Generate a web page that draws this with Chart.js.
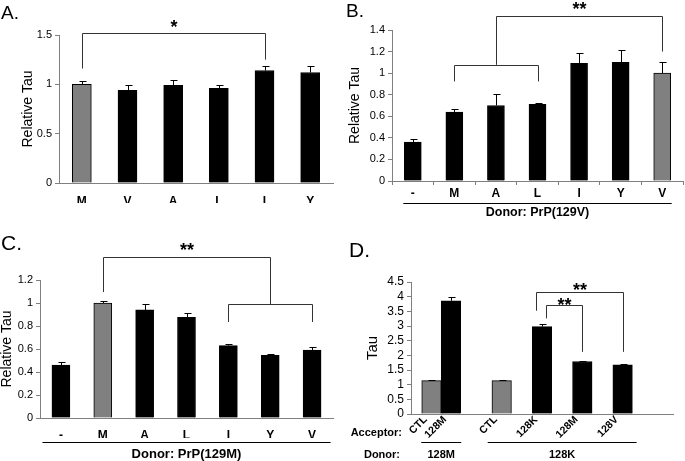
<!DOCTYPE html>
<html>
<head>
<meta charset="utf-8">
<script src="https://cdn.jsdelivr.net/npm/chart.js@4.4.1/dist/chart.umd.min.js"></script>
<style>
  body { margin: 0; background: #fff; }
  #wrap { position: relative; width: 685px; height: 461px; }
  #wrap canvas { position: absolute; left: 0; top: 0; }
</style>
</head>
<body>
<div id="wrap">
  <canvas id="chartA" width="685" height="461"></canvas>
  <canvas id="chartB" width="685" height="461"></canvas>
  <canvas id="chartC" width="685" height="461"></canvas>
  <canvas id="chartD" width="685" height="461"></canvas>
</div>
<script>
// ---- data ----
// A. relative tau, acceptor variants (M is the control)
const aCategories = ['M', 'V', 'A', 'L', 'I', 'Y'];
const aValues = [1.00, 0.94, 0.99, 0.96, 1.14, 1.12];
const aErrors = [0.03, 0.05, 0.05, 0.03, 0.05, 0.07];
const aControl = 'M';

// B. donor PrP(129V)
const bCategories = ['-', 'M', 'A', 'L', 'I', 'Y', 'V'];
const bValues = [0.36, 0.64, 0.70, 0.71, 1.09, 1.10, 1.00];
const bErrors = [0.03, 0.03, 0.11, 0.01, 0.10, 0.11, 0.10];
const bControl = 'V';

// C. donor PrP(129M)
const cCategories = ['-', 'M', 'A', 'L', 'I', 'Y', 'V'];
const cValues = [0.46, 1.00, 0.94, 0.875, 0.63, 0.545, 0.59];
const cErrors = [0.03, 0.02, 0.05, 0.035, 0.015, 0.015, 0.025];
const cControl = 'M';

// D. absolute tau; '' slots are spacers between bars
const dAcceptors = ['', '128M', '', '', 'CTL', '', '128K', '', '128M', '', '128V', '', ''];
const dCtlValues = [null, 1.14, null, null, 1.14, null, null, null, null, null, null, null, null];
const dCtlErrors = [null, 0.03, null, null, 0.03, null, null, null, null, null, null, null, null];
const dValues = [null, 3.86, null, null, null, null, 2.98, null, 1.79, null, 1.68, null, null];
const dErrors = [null, 0.12, null, null, null, null, 0.08, null, 0.03, null, 0.02, null, null];

const FONT = "'Liberation Sans', Arial, sans-serif";
const GRAY = '#808080';
const AXIS = '#7f7f7f';

Chart.defaults.font.family = FONT;

const fmt = v => String(Math.round(v * 100) / 100);

// error bars, significance brackets, group lines and panel letters
const overlay = {
  id: 'overlay',
  afterDatasetsDraw(chart, args, opts) {
    const { ctx, chartArea } = chart;
    const x = chart.scales.x, y = chart.scales.y;
    ctx.save();
    ctx.lineWidth = 1;

    chart.data.datasets.forEach((ds, di) => {
      if (!ds.errors) return;
      chart.getDatasetMeta(di).data.forEach((bar, i) => {
        const v = ds.data[i], e = ds.errors[i];
        if (v == null || !e) return;
        const top = Math.round(y.getPixelForValue(v + e)) + 0.5;
        const bx = Math.round(bar.x) + 0.5;
        ctx.strokeStyle = '#000';
        ctx.beginPath();
        ctx.moveTo(bx, bar.y);
        ctx.lineTo(bx, top);
        ctx.moveTo(bx - 3, top);
        ctx.lineTo(bx + 4, top);
        ctx.stroke();
      });
    });

    (opts.brackets || []).forEach(b => {
      const x1 = Math.round(x.getPixelForValue(b.from) + (b.dxFrom || 0)) + 0.5;
      const x2 = Math.round(x.getPixelForValue(b.to) + (b.dxTo || 0)) + 0.5;
      const yt = Math.round(y.getPixelForValue(b.top)) + 0.5;
      ctx.strokeStyle = '#333';
      ctx.beginPath();
      ctx.moveTo(x1, y.getPixelForValue(b.footFrom));
      ctx.lineTo(x1, yt);
      ctx.lineTo(x2, yt);
      ctx.lineTo(x2, y.getPixelForValue(b.footTo));
      ctx.stroke();
      if (b.stars) {
        const size = 18;
        ctx.fillStyle = '#000';
        ctx.font = 'bold ' + size + 'px ' + FONT;
        ctx.textAlign = 'center';
        ctx.textBaseline = 'alphabetic';
        ctx.fillText(b.stars, (x1 + x2) / 2, y.getPixelForValue(b.starsAt) + 0.57 * size);
      }
    });

    (opts.groups || []).forEach(g => {
      const x1 = x.getPixelForValue(g.from) - g.pad;
      const x2 = x.getPixelForValue(g.to) + g.pad;
      const yl = Math.round(chartArea.bottom + g.drop) + 0.5;
      ctx.strokeStyle = '#000';
      ctx.beginPath();
      ctx.moveTo(x1, yl);
      ctx.lineTo(x2, yl);
      ctx.stroke();
      ctx.fillStyle = '#000';
      ctx.font = 'bold ' + g.size + 'px ' + FONT;
      ctx.textAlign = 'center';
      ctx.textBaseline = 'middle';
      ctx.fillText(g.label, (x1 + x2) / 2, yl + g.gap);
    });

    if (opts.acceptors) {
      ctx.fillStyle = '#000';
      ctx.font = 'bold 10.5px ' + FONT;
      ctx.textAlign = 'right';
      ctx.textBaseline = 'middle';
      chart.data.datasets.forEach((ds, di) => {
        chart.getDatasetMeta(di).data.forEach((bar, i) => {
          if (ds.data[i] == null) return;
          const text = di === 0 ? 'CTL' : opts.acceptors[i];
          ctx.save();
          ctx.translate(bar.x - 6, chartArea.bottom + 4);
          ctx.rotate(-Math.PI / 4);
          ctx.fillText(text, 0, 0);
          ctx.restore();
        });
      });
    }

    (opts.captions || []).forEach(c => {
      ctx.fillStyle = '#000';
      ctx.font = 'bold 11px ' + FONT;
      ctx.textAlign = 'right';
      ctx.textBaseline = 'middle';
      ctx.fillText(c.text, chartArea.left + c.dx, chartArea.bottom + c.dy);
    });

    if (opts.letter) {
      ctx.fillStyle = '#000';
      ctx.font = opts.letter.size + 'px ' + FONT;
      ctx.textAlign = 'left';
      ctx.textBaseline = 'alphabetic';
      ctx.fillText(opts.letter.text, opts.letter.x, opts.letter.y);
    }
    ctx.restore();
  }
};

function yAxis(max, step, width, title, titleSize, titlePad, tickSize) {
  return {
    min: 0,
    max: max,
    afterFit: s => { s.width = width; },
    border: { color: AXIS, width: 1 },
    grid: { drawOnChartArea: false, drawTicks: true, tickLength: 4, color: AXIS },
    ticks: {
      stepSize: step,
      autoSkip: false,
      padding: 3,
      color: '#000',
      font: { size: tickSize, lineHeight: 1 },
      callback: fmt
    },
    title: {
      display: true,
      text: title,
      color: '#000',
      font: { size: titleSize, lineHeight: 1 },
      padding: { top: titlePad, bottom: 0 }
    }
  };
}

function xAxis(showTickMarks, showLabels, labelPad) {
  return {
    afterFit: s => { s.height = 20; },
    border: { color: AXIS, width: 1 },
    grid: showTickMarks
      ? { display: true, drawOnChartArea: false, drawTicks: true, tickLength: 4, color: AXIS, offset: true }
      : { display: false },
    ticks: {
      display: showLabels,
      padding: labelPad,
      color: '#000',
      maxRotation: 0,
      autoSkip: false,
      font: { size: 12, weight: 'bold', lineHeight: 1.2 }
    }
  };
}

function barColors(categories, control) {
  return categories.map(c => (c === control ? GRAY : '#000'));
}

function simplePanel(id, categories, values, errors, control, thickness, layout, scales, overlayOpts) {
  return new Chart(document.getElementById(id), {
    type: 'bar',
    data: {
      labels: categories,
      datasets: [{
        data: values,
        errors: errors,
        backgroundColor: barColors(categories, control),
        borderColor: '#000',
        borderWidth: 1,
        barThickness: thickness
      }]
    },
    options: {
      responsive: false,
      devicePixelRatio: 1,
      animation: false,
      layout: { padding: layout },
      plugins: { legend: { display: false }, tooltip: { enabled: false }, overlay: overlayOpts },
      scales: scales
    },
    plugins: [overlay]
  });
}

// A
simplePanel('chartA', aCategories, aValues, aErrors, aControl, 19,
  { left: 0, top: 35, right: 352, bottom: 258 },
  { x: xAxis(false, true, 3), y: yAxis(1.5, 0.5, 59, 'Relative Tau', 14, 21, 11) },
  {
    letter: { text: 'A.', x: 1, y: 18.5, size: 19 },
    brackets: [{ from: 0, to: 4, top: 1.516, footFrom: 1.16, footTo: 1.25, stars: '*', starsAt: 1.62 }]
  });

// B
simplePanel('chartB', bCategories, bValues, bErrors, bControl, 17,
  { left: 340, top: 30, right: 2, bottom: 260 },
  { x: xAxis(true, true, 1.5), y: yAxis(1.4, 0.2, 52, 'Relative Tau', 14, 8, 11) },
  {
    letter: { text: 'B.', x: 346, y: 17, size: 19 },
    brackets: [
      { from: 1, to: 3, top: 1.077, footFrom: 0.923, footTo: 0.923 },
      { from: 2, to: 6, top: 1.526, footFrom: 1.077, footTo: 1.20, stars: '**', starsAt: 1.635 }
    ],
    groups: [{ from: 0, to: 6, pad: 9.5, drop: 22, gap: 9, size: 12.5, label: 'Donor: PrP(129V)' }]
  });

// C
simplePanel('chartC', cCategories, cValues, cErrors, cControl, 18,
  { left: 0, top: 280, right: 352, bottom: 23 },
  { x: xAxis(false, true, 2.8), y: yAxis(1.2, 0.2, 40, 'Relative Tau', 14, 0, 11) },
  {
    letter: { text: 'C.', x: 1, y: 250, size: 21 },
    brackets: [
      { from: 4, to: 6, top: 0.988, footFrom: 0.835, footTo: 0.835 },
      { from: 1, to: 5, top: 1.40, footFrom: 1.095, footTo: 0.988, stars: '**', starsAt: 1.50 }
    ],
    groups: [{ from: 0, to: 6, pad: 18.5, drop: 24, gap: 11.5, size: 13, label: 'Donor: PrP(129M)' }]
  });

// D
new Chart(document.getElementById('chartD'), {
  type: 'bar',
  data: {
    labels: dAcceptors,
    datasets: [
      { data: dCtlValues, errors: dCtlErrors, backgroundColor: GRAY, borderColor: '#000', borderWidth: 1, barThickness: 19.5, skipNull: true },
      { data: dValues, errors: dErrors, backgroundColor: '#000', borderColor: '#000', borderWidth: 1, barThickness: 19.5, skipNull: true }
    ]
  },
  options: {
    responsive: false,
    devicePixelRatio: 1,
    animation: false,
    layout: { padding: { left: 345, top: 282, right: 12, bottom: 27 } },
    plugins: {
      legend: { display: false },
      tooltip: { enabled: false },
      overlay: {
        letter: { text: 'D.', x: 349, y: 256.5, size: 21 },
        brackets: [
          { from: 6, to: 10, dxFrom: -6, top: 4.15, footFrom: 3.52, footTo: 2.12, stars: '**', starsAt: 4.36 },
          { from: 6, to: 8, dxFrom: 4, top: 3.72, footFrom: 3.26, footTo: 2.12, stars: '**', starsAt: 3.87 }
        ],
        groups: [
          { from: 1, to: 1, pad: 20, drop: 28, gap: 12.7, size: 11, label: '128M' },
          { from: 4, to: 10, pad: 14, drop: 28, gap: 12.7, size: 11, label: '128K' }
        ],
        acceptors: dAcceptors,
        captions: [
          { text: 'Acceptor:', dx: -9, dy: 19 },
          { text: 'Donor:', dx: -11, dy: 41 }
        ]
      }
    },
    scales: {
      x: xAxis(false, false, 0),
      y: yAxis(4.5, 0.5, 66, 'Tau', 15, 20.5, 12)
    }
  },
  plugins: [overlay]
});
</script>
</body>
</html>
